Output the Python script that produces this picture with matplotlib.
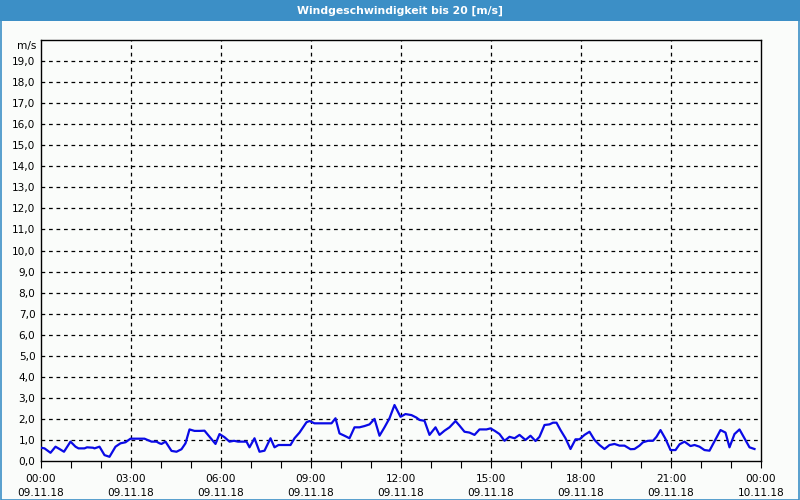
import matplotlib
matplotlib.use("Agg")
import matplotlib.pyplot as plt
from matplotlib.patches import Rectangle

# Time of each sample in minutes after 09.11.18 00:00, wind speed in m/s
minutes = [0, 7, 19, 29, 37, 46, 59, 69, 75, 87, 92, 104, 107, 117, 127, 137, 149, 159, 169, 179,
           207, 221, 231, 237, 241, 249, 261, 271, 281, 289, 297, 307, 317, 327, 337, 349, 357, 367,
           377, 386, 394, 411, 417, 427, 437, 447, 459, 467, 475, 499, 507, 517, 531, 537, 547, 581,
           589, 597, 607, 617, 627, 637, 647, 657, 667, 677, 687, 697, 707, 719, 729, 741, 751, 757,
           767, 777, 789, 797, 807, 817, 829, 837, 847, 857, 867, 877, 891, 899, 907, 917, 927, 937,
           947, 957, 969, 979, 989, 997, 1007, 1017, 1024, 1031, 1039, 1049, 1059, 1069, 1077, 1087,
           1097, 1107, 1117, 1127, 1137, 1147, 1157, 1167, 1179, 1187, 1197, 1204, 1214, 1224, 1231,
           1239, 1249, 1259, 1269, 1277, 1287, 1299, 1307, 1317, 1327, 1337, 1349, 1359, 1369, 1377,
           1387, 1397, 1407, 1417, 1427]
speed = [0.63, 0.60, 0.39, 0.68, 0.57, 0.44, 0.92, 0.68, 0.60, 0.60, 0.65, 0.63, 0.60, 0.68, 0.28,
         0.20, 0.68, 0.84, 0.89, 1.06, 1.06, 0.92, 0.92, 0.84, 0.81, 0.92, 0.48, 0.44, 0.56, 0.84,
         1.50, 1.43, 1.43, 1.44, 1.15, 0.81, 1.28, 1.13, 0.92, 0.96, 0.92, 0.92, 0.65, 1.08, 0.44,
         0.49, 1.08, 0.65, 0.76, 0.76, 1.08, 1.35, 1.84, 1.90, 1.79, 1.79, 2.03, 1.31, 1.20, 1.08,
         1.60, 1.60, 1.66, 1.74, 2.00, 1.20, 1.60, 2.03, 2.66, 2.10, 2.23, 2.18, 2.06, 1.95, 1.91,
         1.24, 1.60, 1.24, 1.44, 1.60, 1.90, 1.68, 1.39, 1.35, 1.24, 1.50, 1.50, 1.55, 1.44, 1.28,
         0.96, 1.15, 1.08, 1.24, 1.00, 1.20, 0.95, 1.15, 1.71, 1.74, 1.82, 1.82, 1.47, 1.08, 0.57,
         1.03, 1.03, 1.24, 1.39, 1.00, 0.76, 0.57, 0.76, 0.81, 0.73, 0.73, 0.56, 0.57, 0.73, 0.89,
         0.96, 0.96, 1.15, 1.47, 1.05, 0.52, 0.52, 0.79, 0.92, 0.71, 0.76, 0.68, 0.52, 0.49, 1.03,
         1.47, 1.35, 0.65, 1.28, 1.50, 1.08, 0.65, 0.57]

x_tick_hours = [0, 3, 6, 9, 12, 15, 18, 21, 24]
x_tick_labels = ["00:00\n09.11.18", "03:00\n09.11.18", "06:00\n09.11.18", "09:00\n09.11.18",
                 "12:00\n09.11.18", "15:00\n09.11.18", "18:00\n09.11.18", "21:00\n09.11.18",
                 "00:00\n10.11.18"]
y_ticks = list(range(0, 20))
y_tick_labels = [f"{v},0" for v in y_ticks]
title = "Windgeschwindigkeit bis 20 [m/s]"
unit = "m/s"

W, H = 800, 500
bg = "#fafcfa"
blue_bar = "#3c8fc6"

plt.rcParams["font.family"] = ["DejaVu Sans"]
fig = plt.figure(figsize=(W / 100, H / 100), dpi=100, facecolor=bg)

# Title bar and border
fig.patches.append(Rectangle((0, 1 - 21 / H), 1, 21 / H, transform=fig.transFigure,
                             facecolor=blue_bar, edgecolor="none", zorder=0))
fig.patches.append(Rectangle((0.5 / W, 0.5 / H), 1 - 1.5 / W, 1 - 1 / H, transform=fig.transFigure,
                             facecolor="none", edgecolor=blue_bar, linewidth=1.2, zorder=1))
fig.text(0.5, 1 - 10.5 / H, title, color="white", fontsize=7.8, fontweight="bold",
         ha="center", va="center")

left, right, top, bottom = 41, 761, 40, 461
ax = fig.add_axes([left / W, 1 - bottom / H, (right - left) / W, (bottom - top) / H])
ax.set_facecolor(bg)

hours = [m / 60 for m in minutes]
ax.plot(hours, speed, color="#0a0ae6", linewidth=1.6, zorder=3, solid_joinstyle="round")

ax.set_xlim(0, 24)
ax.set_ylim(0, 20)

ax.set_xticks(x_tick_hours)
ax.set_xticklabels(x_tick_labels, fontsize=7.6, linespacing=1.5)
ax.set_xticks(list(range(0, 25)), minor=True)
ax.tick_params(axis="x", which="both", direction="out", length=5, width=0.8, color="black", pad=4)

ax.set_yticks(y_ticks)
ax.set_yticklabels(y_tick_labels, fontsize=7.6)
ax.tick_params(axis="y", which="both", length=0, pad=4)

for h in x_tick_hours[1:-1]:
    ax.axvline(h, color="black", linestyle=(0, (3, 3)), linewidth=0.9, zorder=1)
for v in y_ticks[1:]:
    ax.axhline(v, color="black", linestyle=(0, (3, 3)), linewidth=0.9, zorder=1)

for s in ax.spines.values():
    s.set_color("black")
    s.set_linewidth(1.0)

ax.text(-0.006, 19.7, unit, transform=ax.get_yaxis_transform(), ha="right", va="center", fontsize=7.6)

fig.savefig("out.png", dpi=100, facecolor=bg)
